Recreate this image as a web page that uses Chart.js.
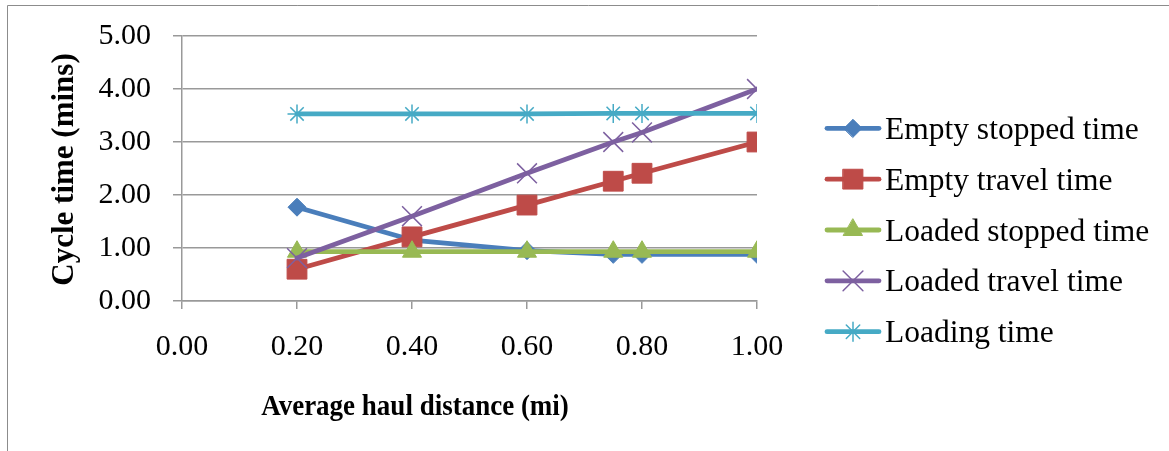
<!DOCTYPE html>
<html>
<head>
<meta charset="utf-8">
<script src="https://cdn.jsdelivr.net/npm/chart.js@4"></script>
<style>
html,body{margin:0;padding:0;background:#fff;}
#wrap{width:1169px;height:451px;position:relative;}
</style>
</head>
<body>
<div id="wrap"><canvas id="c" width="1169" height="451"></canvas></div>
<script>
// ---- data ----
const distances = [0.2, 0.4, 0.6, 0.75, 0.8, 1.0];
const seriesNames = ["Empty stopped time", "Empty travel time", "Loaded stopped time", "Loaded travel time", "Loading time"];
const emptyStopped = [1.77, 1.15, 0.95, 0.88, 0.88, 0.88];
const emptyTravel = [0.60, 1.21, 1.81, 2.26, 2.41, 3.00];
const loadedStopped = [0.93, 0.93, 0.93, 0.93, 0.93, 0.93];
const loadedTravel = [0.81, 1.60, 2.41, 3.00, 3.18, 4.00];
const loadingTime = [3.53, 3.53, 3.53, 3.54, 3.54, 3.54];
const xTitle = "Average haul distance (mi)";
const yTitle = "Cycle time (mins)";

const colors = ["#4A7EBB", "#BE4B48", "#98B954", "#7D60A0", "#46AAC5"];
const styles = [
  {pointStyle: "rectRot", radius: 9, pbw: 1},
  {pointStyle: "rect", radius: 14, pbw: 1},
  {pointStyle: "triangle", radius: 11, pbw: 1},
  {pointStyle: "crossRot", radius: 14, pbw: 1.5},
  {pointStyle: "star", radius: 9.5, pbw: 1.5}
];
const allValues = [emptyStopped, emptyTravel, loadedStopped, loadedTravel, loadingTime];

const datasets = allValues.map((vals, i) => ({
  label: seriesNames[i],
  data: distances.map((x, k) => ({x: x, y: vals[k]})),
  borderColor: colors[i],
  backgroundColor: colors[i],
  pointBackgroundColor: colors[i],
  pointBorderColor: colors[i],
  borderWidth: 4.8,
  borderCapStyle: "round",
  borderJoinStyle: "round",
  pointStyle: styles[i].pointStyle,
  pointRadius: styles[i].radius,
  pointHoverRadius: styles[i].radius,
  pointBorderWidth: styles[i].pbw,
  showLine: true,
  tension: 0,
  order: 4 - i
}));

const serif = "'Liberation Serif', 'Times New Roman', serif";

const decor = {
  id: "decor",
  beforeDraw(chart) {
    const ctx = chart.ctx;
    ctx.save();
    ctx.fillStyle = "#fff";
    ctx.fillRect(0, 0, chart.width, chart.height);
    ctx.strokeStyle = "#8c8c8c";
    ctx.lineWidth = 1;
    ctx.beginPath();
    ctx.moveTo(7.5, 451);
    ctx.lineTo(7.5, 5.5);
    ctx.lineTo(1169, 5.5);
    ctx.stroke();
    ctx.restore();
  },
  afterDraw(chart) {
    const ctx = chart.ctx;
    const ca = chart.chartArea;
    ctx.save();
    // axis titles
    ctx.fillStyle = "#000";
    ctx.textAlign = "center";
    ctx.textBaseline = "alphabetic";
    ctx.save();
    ctx.translate(415, 415);
    ctx.scale(1, 1.12);
    ctx.font = "bold 27px " + serif;
    ctx.fillText(xTitle, 0, 0);
    ctx.restore();
    ctx.save();
    ctx.translate(73, (ca.top + ca.bottom) / 2 + 1);
    ctx.rotate(-Math.PI / 2);
    ctx.font = "bold 31px " + serif;
    ctx.fillText(yTitle, 0, 0);
    ctx.restore();
    // legend
    const rowY0 = 128.3, rowStep = 50.85;
    const lx0 = 827, lx1 = 879, tx = 885;
    ctx.font = "31.5px " + serif;
    ctx.textAlign = "left";
    seriesNames.forEach((name, i) => {
      const y = rowY0 + i * rowStep;
      ctx.strokeStyle = colors[i];
      ctx.lineWidth = 4.8;
      ctx.lineCap = "round";
      ctx.beginPath();
      ctx.moveTo(lx0, y);
      ctx.lineTo(lx1, y);
      ctx.stroke();
      ctx.fillStyle = colors[i];
      ctx.strokeStyle = colors[i];
      ctx.lineWidth = styles[i].pbw;
      if (Chart.helpers && Chart.helpers.drawPoint) {
        Chart.helpers.drawPoint(ctx, {pointStyle: styles[i].pointStyle, radius: styles[i].radius, rotation: 0, borderWidth: styles[i].pbw}, (lx0 + lx1) / 2, y);
      }
      ctx.fillStyle = "#000";
      ctx.fillText(name, tx, y + 10.5);
    });
    ctx.restore();
  }
};

new Chart(document.getElementById("c"), {
  type: "scatter",
  data: {datasets: datasets},
  plugins: [decor],
  options: {
    responsive: false,
    animation: false,
    events: [],
    layout: {padding: {left: 0, top: 36, right: 412, bottom: 0}},
    plugins: {legend: {display: false}, tooltip: {enabled: false}},
    scales: {
      x: {
        type: "linear",
        min: 0, max: 1,
        afterFit(scale) { scale.height = 150; scale.paddingLeft = 0; scale.paddingRight = 0; },
        ticks: {
          stepSize: 0.2,
          color: "#000",
          padding: 20,
          maxRotation: 0,
          font: {family: serif, size: 30},
          callback: (v) => Number(v).toFixed(2)
        },
        grid: {display: true, drawOnChartArea: false, drawTicks: true, tickLength: 8, color: "#999", lineWidth: 1.5},
        border: {display: true, color: "#999", width: 1.5}
      },
      y: {
        type: "linear",
        min: 0, max: 5,
        afterFit(scale) { scale.width = 182; scale.paddingTop = 0; scale.paddingBottom = 0; },
        ticks: {
          stepSize: 1,
          color: "#000",
          padding: 22,
          font: {family: serif, size: 30},
          callback: (v) => Number(v).toFixed(2)
        },
        grid: {display: true, drawTicks: true, tickLength: 9, color: "#999", lineWidth: 1.5},
        border: {display: true, color: "#999", width: 1.5}
      }
    }
  }
});
</script>
</body>
</html>
